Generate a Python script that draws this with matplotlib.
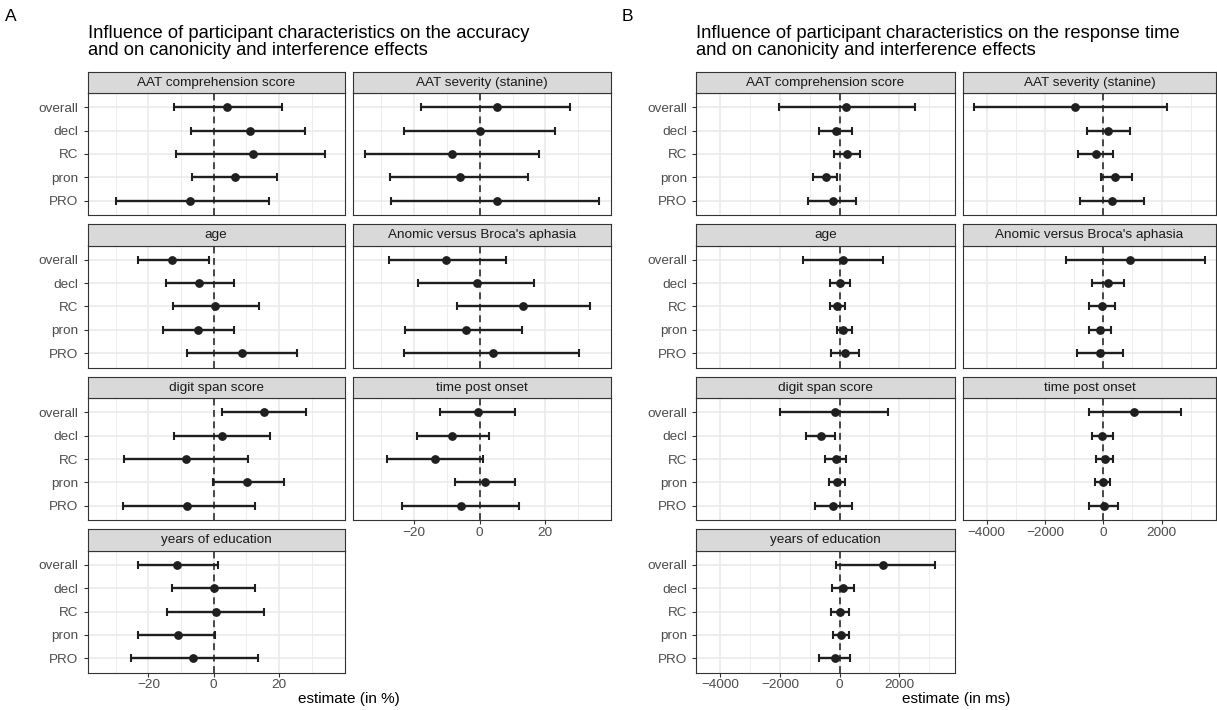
import numpy as np
import matplotlib.pyplot as plt

plt.rcParams['font.family'] = ['Liberation Sans', 'DejaVu Sans']

facets = ["AAT comprehension score", "AAT severity (stanine)", "age",
          "Anomic versus Broca's aphasia", "digit span score", "time post onset",
          "years of education"]
conditions = ["overall", "decl", "RC", "pron", "PRO"]

# accuracy effects (in %), one row per facet, conditions in the order above
acc_est = [[4.1, 11.0, 12.0, 6.4, -7.2],
           [5.3, 0.2, -8.3, -5.9, 5.4],
           [-12.7, -4.6, 0.5, -4.9, 8.5],
           [-10.4, -0.7, 13.3, -4.1, 3.9],
           [15.4, 2.4, -8.4, 10.3, -8.2],
           [-0.6, -8.3, -13.7, 1.5, -5.8],
           [-11.1, 0.0, 0.7, -11.0, -6.4]]
acc_lo = [[-12.1, -7.0, -11.4, -6.6, -29.8],
          [-17.8, -23.0, -35.0, -27.4, -27.1],
          [-23.3, -14.7, -12.4, -15.5, -8.3],
          [-27.7, -18.8, -7.0, -22.7, -23.0],
          [2.5, -12.1, -27.4, -0.2, -27.8],
          [-12.1, -19.1, -28.3, -7.5, -23.7],
          [-23.3, -12.8, -14.2, -23.2, -25.3]]
acc_hi = [[20.8, 27.9, 34.0, 19.5, 16.9],
          [27.6, 23.0, 18.0, 14.7, 36.4],
          [-1.3, 6.2, 13.7, 6.2, 25.5],
          [7.9, 16.6, 33.6, 12.8, 30.4],
          [28.2, 17.2, 10.4, 21.6, 12.6],
          [10.8, 2.8, 0.9, 10.7, 12.0],
          [1.4, 12.7, 15.4, 0.5, 13.6]]

# response time effects (in ms)
rt_est = [[207, -129, 246, -466, -220],
          [-958, 155, -233, 414, 311],
          [104, 0, -78, 129, 168],
          [932, 155, -39, -104, -104],
          [-168, -621, -117, -78, -220],
          [1036, -39, 52, -13, 13],
          [1450, 129, 0, 39, -168]]
rt_lo = [[-2045, -686, -181, -893, -1061],
         [-4414, -557, -867, -91, -803],
         [-1230, -337, -337, -104, -298],
         [-1282, -401, -479, -479, -893],
         [-1994, -1139, -492, -350, -828],
         [-492, -401, -233, -272, -492],
         [-117, -259, -298, -233, -699]]
rt_hi = [[2537, 401, 699, -104, 544],
         [2188, 919, 337, 971, 1398],
         [1463, 337, 181, 401, 634],
         [3469, 712, 388, 272, 686],
         [1631, -142, 220, 181, 401],
         [2680, 337, 337, 220, 505],
         [3210, 479, 311, 311, 350]]

W, H = 1217, 710
ROW_TOP = 93
ROW_STEP = 152.5
PANEL_H = 122
STRIP_H = 21.5


def draw_half(fig, cols, est, lo, hi, xlim, major, minor, title, letter, letter_x, xlabel):
    ypos = np.arange(len(conditions))[::-1] + 1
    for i, name in enumerate(facets):
        row, col = divmod(i, 2)
        x0, x1 = cols[col]
        top = ROW_TOP + row * ROW_STEP
        ax = fig.add_axes([x0 / W, 1 - (top + PANEL_H) / H, (x1 - x0) / W, PANEL_H / H])
        ax.set_xlim(*xlim)
        ax.set_ylim(0.4, len(conditions) + 0.6)
        ax.set_xticks(major)
        ax.set_xticks(minor, minor=True)
        ax.set_yticks(ypos)
        ax.grid(True, which='major', color='#EBEBEB', lw=1.2)
        ax.grid(True, which='minor', axis='x', color='#EBEBEB', lw=0.6)
        ax.set_axisbelow(True)
        ax.axvline(0, color='#1A1A1A', lw=1.1, ls=(0, (4.5, 3)), zorder=2)
        e, l, h = np.array(est[i]), np.array(lo[i]), np.array(hi[i])
        ax.errorbar(e, ypos, xerr=[e - l, h - e], fmt='o', color='#1F1F1F', ms=5.3,
                    elinewidth=1.7, capsize=2.6, capthick=1.5, zorder=3)
        for s in ax.spines.values():
            s.set_color('#333333')
            s.set_linewidth(0.8)
        ax.tick_params(which='minor', length=0)
        ax.tick_params(colors='#333333', labelcolor='#4D4D4D', labelsize=9.7,
                       length=3, width=0.8)
        ax.tick_params(axis='x', pad=2)
        if col == 0:
            ax.set_yticklabels(conditions)
        else:
            ax.tick_params(axis='y', length=0, labelleft=False)
        if i >= len(facets) - 2:
            ax.set_xticklabels([f"{v:g}".replace('-', '\u2212') for v in major])
        else:
            ax.tick_params(axis='x', length=0, labelbottom=False)

        sax = fig.add_axes([x0 / W, 1 - top / H, (x1 - x0) / W, STRIP_H / H])
        sax.set_facecolor('#D9D9D9')
        sax.set_xticks([])
        sax.set_yticks([])
        for s in sax.spines.values():
            s.set_color('#333333')
            s.set_linewidth(0.8)
        sax.text(0.5, 0.48, name, ha='center', va='center', fontsize=9.7,
                 color='#1A1A1A', transform=sax.transAxes)

    fig.text(cols[0][0] / W, 1 - 25 / H, title, ha='left', va='top', fontsize=13.2,
             color='black', linespacing=1.0)
    fig.text(letter_x / W, 1 - 9 / H, letter, ha='left', va='top', fontsize=12.5)
    fig.text((cols[0][0] + cols[1][1]) / 2 / W, 1 - 699 / H, xlabel, ha='center',
             va='center', fontsize=11)


fig = plt.figure(figsize=(W / 100, H / 100), dpi=100)

draw_half(fig, [(87.5, 344.5), (353, 611)], acc_est, acc_lo, acc_hi,
          (-38.6, 40.0), [-20, 0, 20], [-30, -10, 10, 30],
          "Influence of participant characteristics on the accuracy\n"
          "and on canonicity and interference effects", "A", 5, "estimate (in %)")

draw_half(fig, [(696, 955), (963, 1216)], rt_est, rt_lo, rt_hi,
          (-4808, 3863), [-4000, -2000, 0, 2000], [-3000, -1000, 1000, 3000],
          "Influence of participant characteristics on the response time\n"
          "and on canonicity and interference effects", "B", 622, "estimate (in ms)")

fig.savefig("out.png", dpi=100)
